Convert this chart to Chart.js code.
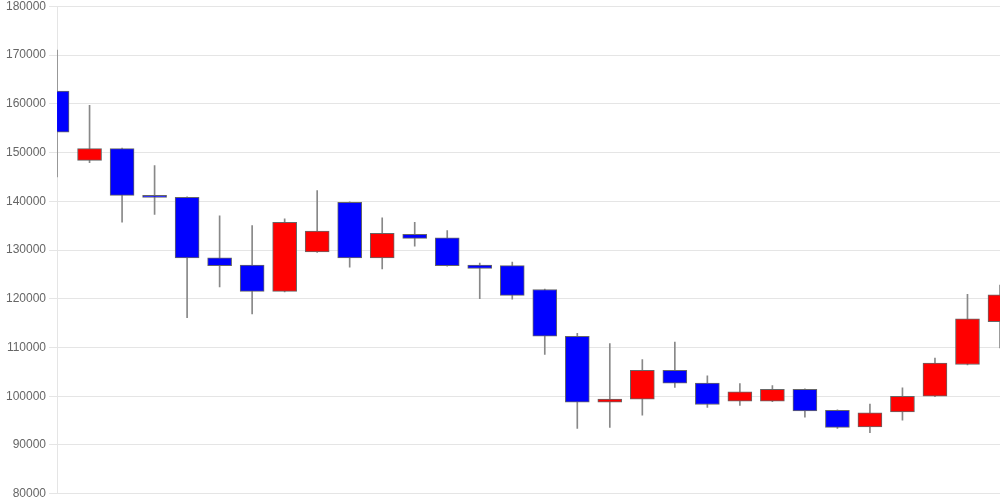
<!DOCTYPE html>
<html>
<head>
<meta charset="utf-8">
<script src="https://cdn.jsdelivr.net/npm/chart.js@4/dist/chart.umd.min.js"></script>
<style>
  html, body { margin: 0; padding: 0; background: #fff; }
  #wrap { width: 1000px; height: 500px; position: relative; }
</style>
</head>
<body>
<div id="wrap"><canvas id="chart"></canvas></div>
<script>
// one entry per session
var days = ['1','2','3','4','5','6','7','8','9','10','11','12','13','14','15',
            '16','17','18','19','20','21','22','23','24','25','26','27','28','29','30'];
var openPrices  = [162600, 148400, 150800, 141200, 140800, 128400, 126900, 121500, 129600, 139800,
                   128400, 133200, 132500, 126900, 126800, 121900, 112300,  98800,  99400, 105300,
                   102700,  99000,  99000, 101400,  97100,  93700,  96800, 100000, 106500, 115300];
var closePrices = [154200, 150800, 141200, 140800, 128400, 126800, 121500, 135700, 133900, 128400,
                   133400, 132400, 126800, 126200, 120700, 112300,  98800,  99400, 105300, 102700,
                    98300, 100900, 101400,  97000,  93600,  96600, 100000, 106800, 115900, 120800];
var highPrices  = [171000, 159700, 150900, 147300, 140900, 137000, 135000, 136400, 142200, 139900,
                   136600, 135700, 134000, 127300, 127500, 122000, 112900, 110800, 107500, 111100,
                   104200, 102600, 102200, 101500,  97200,  98400, 101700, 107800, 120900, 122800];
var lowPrices   = [145000, 147900, 135700, 137300, 116100, 122400, 116900, 121400, 129500, 126500,
                   126100, 130800, 126700, 120000, 119900, 108600,  93400,  93600,  96100, 101800,
                    97700,  98100,  98900,  95700,  93400,  92500,  95100,  99900, 106400, 109900];
var yTicks = [80000, 90000, 100000, 110000, 120000, 130000, 140000, 150000, 160000, 170000, 180000];

var upColor = '#ff0000';
var downColor = '#0000ff';

var bodies = [];
var wicks = [];
var bodyColors = [];
for (var i = 0; i < days.length; i++) {
  bodies.push([openPrices[i], closePrices[i]]);
  wicks.push([lowPrices[i], highPrices[i]]);
  bodyColors.push(closePrices[i] >= openPrices[i] ? upColor : downColor);
}

var ctx = document.getElementById('chart');
new Chart(ctx, {
  type: 'bar',
  data: {
    labels: days,
    datasets: [
      {
        label: 'body',
        data: bodies,
        backgroundColor: bodyColors,
        borderColor: '#666',
        borderWidth: 1,
        borderSkipped: false,
        barThickness: 24,
        grouped: false,
        order: 1
      },
      {
        label: 'wick',
        data: wicks,
        backgroundColor: '#888',
        borderWidth: 0,
        barThickness: 1,
        grouped: false,
        order: 2
      }
    ]
  },
  options: {
    responsive: true,
    maintainAspectRatio: false,
    animation: false,
    layout: {
      padding: { left: 3, top: 0, bottom: 0, right: 0 }
    },
    plugins: {
      legend: { display: false },
      tooltip: { enabled: false }
    },
    scales: {
      x: {
        display: false,
        offset: false,
        grid: { display: false }
      },
      y: {
        min: 80000,
        max: 180000,
        afterBuildTicks: function (scale) {
          scale.ticks = yTicks.map(function (v) { return { value: v }; });
        },
        ticks: {
          color: '#666',
          font: { size: 12, lineHeight: 0.55 },
          callback: function (v) { return String(v); }
        },
        grid: { color: 'rgba(0,0,0,0.1)' }
      }
    }
  }
});
</script>
</body>
</html>
